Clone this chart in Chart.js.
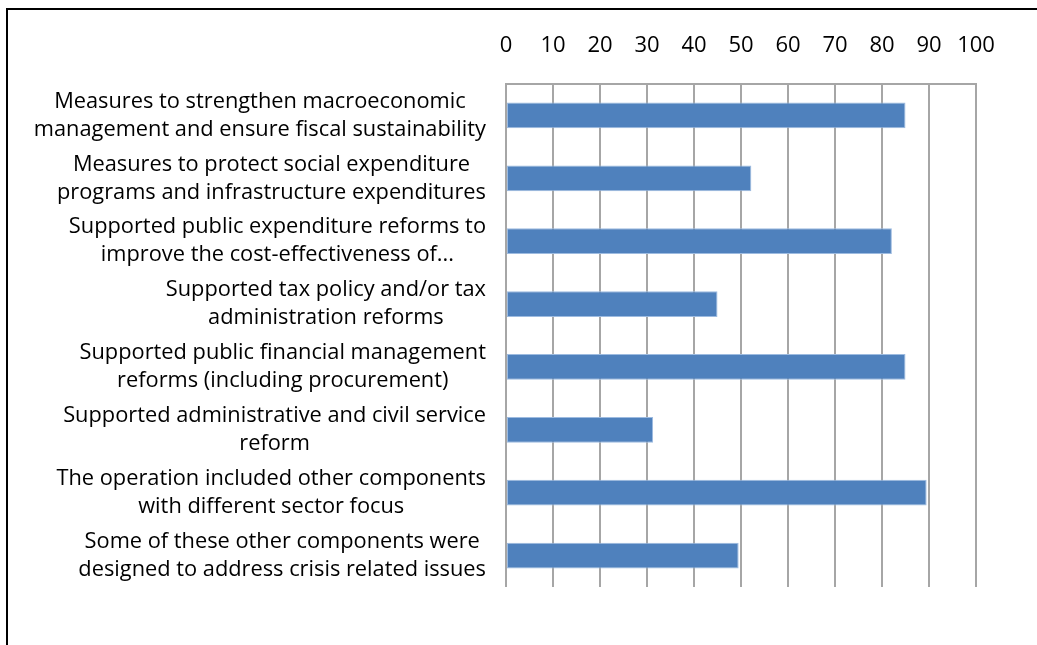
<!DOCTYPE html>
<html>
<head>
<meta charset="utf-8">
<script src="https://cdn.jsdelivr.net/npm/chart.js@4/dist/chart.umd.min.js"></script>
<style>
  html, body { margin: 0; padding: 0; background: #fff; overflow: hidden; }
  #wrap { position: absolute; left: 0; top: 0; width: 1037px; height: 645px; }
  #frame { position: absolute; left: 6px; top: 8px; width: 1100px; height: 700px; border: 2px solid #000; box-sizing: border-box; }
</style>
</head>
<body>
<div id="wrap">
  <div id="frame"></div>
  <canvas id="chart" width="1037" height="645"></canvas>
</div>
<script>
const categories = [
  ['Measures to strengthen macroeconomic', 'management and ensure fiscal sustainability'],
  ['Measures to protect social expenditure', 'programs and infrastructure expenditures'],
  ['Supported public expenditure reforms to', 'improve the cost-effectiveness of...'],
  ['Supported tax policy and/or tax', 'administration reforms'],
  ['Supported public financial management', 'reforms (including procurement)'],
  ['Supported administrative and civil service', 'reform'],
  ['The operation included other components', 'with different sector focus'],
  ['Some of these other components were', 'designed to address crisis related issues']
];
const shares = [85, 52.2, 82.1, 45, 85, 31.3, 89.5, 49.5];
const xTicks = [0, 10, 20, 30, 40, 50, 60, 70, 80, 90, 100];

const FONT = '"Open Sans", "Noto Sans", sans-serif';

// category labels: each block right-aligned against the axis, lines centred within the block
const blockLabels = {
  id: 'blockLabels',
  afterDraw(chart) {
    const ctx = chart.ctx;
    const y = chart.scales.y;
    const right = chart.chartArea.left - 20;
    const lineH = 28;
    ctx.save();
    ctx.font = '21.8px ' + FONT;
    ctx.fillStyle = '#000';
    ctx.textAlign = 'center';
    ctx.textBaseline = 'middle';
    categories.forEach((lines, i) => {
      const cy = y.getPixelForValue(i);
      const w = Math.max(...lines.map(l => ctx.measureText(l).width));
      const cx = right - w / 2;
      lines.forEach((l, k) => {
        ctx.fillText(l, cx, cy + (k - (lines.length - 1) / 2) * lineH);
      });
    });
    ctx.restore();
  }
};

new Chart(document.getElementById('chart'), {
  type: 'bar',
  data: {
    labels: categories.map(c => c.join(' ')),
    datasets: [{
      data: shares,
      backgroundColor: '#4F81BD',
      borderColor: '#9DBBE0',
      borderWidth: 1,
      borderSkipped: false,
      barPercentage: 0.41,
      categoryPercentage: 1
    }]
  },
  options: {
    responsive: false,
    animation: false,
    indexAxis: 'y',
    layout: { padding: { left: 0, right: 61, top: 0, bottom: 58 } },
    plugins: { legend: { display: false }, tooltip: { enabled: false } },
    scales: {
      x: {
        position: 'top',
        min: 0,
        max: 100,
        afterBuildTicks(scale) { scale.ticks = xTicks.map(v => ({ value: v })); },
        afterFit(scale) { scale.height = 84; },
        ticks: { color: '#000', font: { family: FONT, size: 22 }, padding: 25, maxRotation: 0 },
        grid: { color: '#A6A6A6', lineWidth: 2, drawTicks: false },
        border: { color: '#A6A6A6', width: 2 }
      },
      y: {
        afterFit(scale) { scale.width = 506; },
        ticks: { display: false },
        grid: { display: false, drawTicks: false },
        border: { display: false }
      }
    }
  },
  plugins: [blockLabels]
});
</script>
</body>
</html>
